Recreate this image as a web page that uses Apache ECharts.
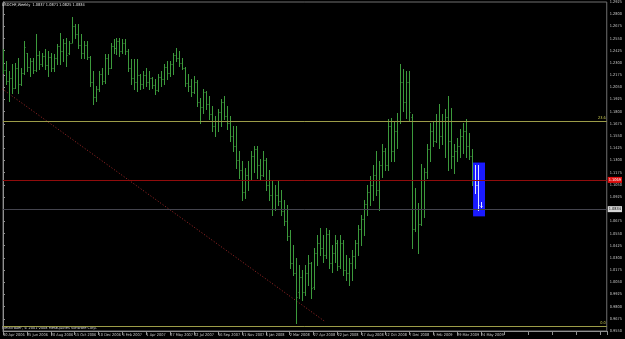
<!DOCTYPE html>
<html>
<head>
<meta charset="utf-8">
<script src="https://cdn.jsdelivr.net/npm/echarts@6/dist/echarts.min.js"></script>
<style>
html,body{margin:0;padding:0;background:#000;}
#chart{width:625px;height:339px;}
</style>
</head>
<body>
<div id="chart"></div>
<script>
// Week-start tick labels (one every 8 weekly bars, first bar = 30 Apr 2006)
const tickLabels = ["30 Apr 2006","25 Jun 2006","20 Aug 2006","15 Oct 2006","10 Dec 2006","4 Feb 2007","1 Apr 2007","27 May 2007","22 Jul 2007","16 Sep 2007","11 Nov 2007","6 Jan 2008","2 Mar 2008","27 Apr 2008","22 Jun 2008","17 Aug 2008","12 Oct 2008","7 Dec 2008","1 Feb 2009","29 Mar 2009","24 May 2009"];

// Weekly USDCHF OHLC (bar index 0 = week of 30 Apr 2006)
const opens = [
1.2430,1.2230,1.2110,1.2150,1.2040,1.2250,1.2080,1.2200,1.2400,1.2260,
1.2320,1.2230,1.2380,1.2290,1.2370,1.2280,1.2360,1.2250,1.2350,1.2470,
1.2420,1.2500,1.2400,1.2500,1.2680,1.2600,1.2480,1.2400,1.2480,1.2360,
1.2100,1.1950,1.2030,1.2190,1.2110,1.2350,1.2250,1.2470,1.2450,1.2520,
1.2420,1.2500,1.2420,1.2250,1.2150,1.2100,1.2180,1.2080,1.2180,1.2100,
1.2150,1.2070,1.2020,1.2160,1.2130,1.2260,1.2200,1.2290,1.2380,1.2350,
1.2300,1.2250,1.2090,1.2060,1.2000,1.2100,1.1900,1.1850,1.2000,1.1880,
1.1780,1.1650,1.1700,1.1800,1.1900,1.1760,1.1680,1.1550,1.1450,1.1300,
1.1200,1.0980,1.1150,1.1100,1.1350,1.1420,1.1250,1.1150,1.1300,1.1050,
1.0950,1.0800,1.0950,1.0880,1.0780,1.0680,1.0520,1.0250,1.0150,0.9950,
1.0100,0.9950,1.0150,1.0250,1.0000,1.0350,1.0450,1.0400,1.0330,1.0550,
1.0250,1.0350,1.0450,1.0220,1.0450,1.0180,1.0150,1.0250,1.0320,1.0450,
1.0600,1.0700,1.0850,1.0980,1.1050,1.1150,1.1000,1.1250,1.1400,1.1250,
1.1650,1.1400,1.1600,1.1700,1.2100,1.1900,1.2100,1.1750,1.0600,1.0800,
1.0650,1.1100,1.1180,1.1420,1.1600,1.1500,1.1700,1.1550,1.1700,1.1750,
1.1500,1.1350,1.1400,1.1450,1.1550,1.1600,1.1450,1.1350,1.1100,1.1050,
1.0837];
const highs = [
1.2444,1.2321,1.2219,1.2291,1.2301,1.2352,1.2250,1.2526,1.2403,1.2352,
1.2352,1.2598,1.2424,1.2403,1.2444,1.2424,1.2403,1.2393,1.2495,1.2608,
1.2547,1.2557,1.2526,1.2770,1.2700,1.2700,1.2598,1.2526,1.2526,1.2370,
1.2219,1.2066,1.2219,1.2250,1.2393,1.2393,1.2506,1.2547,1.2557,1.2557,
1.2547,1.2547,1.2444,1.2342,1.2342,1.2342,1.2188,1.2219,1.2250,1.2219,
1.2160,1.2137,1.2188,1.2219,1.2291,1.2321,1.2321,1.2403,1.2455,1.2424,
1.2352,1.2260,1.2188,1.2137,1.2168,1.2120,1.1943,1.2035,1.2015,1.1964,
1.1861,1.1759,1.1831,1.1933,1.1964,1.1861,1.1759,1.1657,1.1657,1.1401,
1.1299,1.1217,1.1299,1.1401,1.1452,1.1450,1.1319,1.1401,1.1320,1.1197,
1.1094,1.1043,1.1094,1.0992,1.0890,1.0839,1.0583,1.0430,1.0297,1.0225,
1.0174,1.0225,1.0327,1.0256,1.0399,1.0532,1.0603,1.0532,1.0603,1.0583,
1.0430,1.0532,1.0481,1.0532,1.0481,1.0327,1.0297,1.0378,1.0481,1.0634,
1.0736,1.0890,1.1043,1.1145,1.1248,1.1401,1.1299,1.1473,1.1432,1.1728,
1.1739,1.1708,1.1790,1.2291,1.2240,1.2219,1.2219,1.1780,1.1022,1.0859,
1.1268,1.1227,1.1473,1.1688,1.1708,1.1780,1.1882,1.1780,1.1831,1.1964,
1.1841,1.1473,1.1534,1.1626,1.1688,1.1728,1.1585,1.1422,1.1248,1.1248,
1.0871];
const lows = [
1.2199,1.2086,1.1912,1.1994,1.2045,1.1994,1.2070,1.2188,1.2219,1.2168,
1.2199,1.2219,1.2240,1.2270,1.2240,1.2168,1.2219,1.2219,1.2291,1.2291,
1.2321,1.2270,1.2393,1.2510,1.2557,1.2455,1.2352,1.2352,1.2342,1.2066,
1.1882,1.1912,1.2015,1.2086,1.2096,1.2188,1.2250,1.2403,1.2393,1.2373,
1.2403,1.2393,1.2219,1.2086,1.2035,1.2015,1.2035,1.2045,1.2066,1.2035,
1.2045,1.1984,1.2015,1.2066,1.2086,1.2137,1.2168,1.2188,1.2321,1.2270,
1.2240,1.2066,1.2015,1.1964,1.1994,1.1861,1.1688,1.1790,1.1831,1.1728,
1.1606,1.1555,1.1606,1.1657,1.1728,1.1626,1.1504,1.1401,1.1217,1.1115,
1.0890,1.0910,1.0992,1.1094,1.1176,1.1115,1.1094,1.1145,1.0992,1.0890,
1.0736,1.0788,1.0839,1.0736,1.0634,1.0481,1.0194,1.0123,0.9637,0.9888,
0.9867,0.9918,1.0020,0.9888,0.9980,1.0225,1.0327,1.0256,1.0297,1.0194,
1.0153,1.0256,1.0174,1.0200,1.0123,1.0072,1.0020,1.0072,1.0194,1.0327,
1.0430,1.0532,1.0736,1.0839,1.0890,1.0941,1.0788,1.1125,1.1197,1.1197,
1.1299,1.1299,1.1432,1.1688,1.1810,1.1739,1.1708,1.0399,1.0580,1.0348,
1.0640,1.0716,1.1115,1.1299,1.1452,1.1490,1.1432,1.1473,1.1330,1.1197,
1.1227,1.1166,1.1299,1.1330,1.1381,1.1330,1.1319,1.1043,1.0961,1.0788,
1.0825];
const closes = [
1.2230,1.2110,1.2150,1.2040,1.2250,1.2080,1.2200,1.2460,1.2260,1.2320,
1.2230,1.2380,1.2290,1.2370,1.2280,1.2360,1.2250,1.2350,1.2470,1.2420,
1.2500,1.2380,1.2500,1.2680,1.2600,1.2480,1.2400,1.2480,1.2360,1.2100,
1.1950,1.2030,1.2190,1.2110,1.2350,1.2250,1.2470,1.2450,1.2520,1.2420,
1.2500,1.2420,1.2250,1.2150,1.2100,1.2180,1.2080,1.2180,1.2100,1.2150,
1.2070,1.2020,1.2160,1.2130,1.2260,1.2200,1.2290,1.2380,1.2350,1.2300,
1.2250,1.2090,1.2060,1.2000,1.2100,1.1900,1.1850,1.2000,1.1880,1.1780,
1.1650,1.1700,1.1800,1.1900,1.1760,1.1680,1.1550,1.1450,1.1300,1.1200,
1.0980,1.1150,1.1100,1.1350,1.1420,1.1250,1.1150,1.1300,1.1050,1.0950,
1.0800,1.0950,1.0880,1.0780,1.0680,1.0520,1.0250,1.0150,0.9900,1.0100,
0.9950,1.0150,1.0250,0.9990,1.0350,1.0450,1.0400,1.0330,1.0550,1.0250,
1.0350,1.0450,1.0220,1.0450,1.0180,1.0150,1.0250,1.0320,1.0450,1.0600,
1.0700,1.0850,1.0980,1.1050,1.1150,1.1000,1.1250,1.1400,1.1250,1.1650,
1.1400,1.1600,1.1700,1.2100,1.1900,1.2100,1.1800,1.0600,1.0800,1.0650,
1.1100,1.1180,1.1420,1.1600,1.1500,1.1700,1.1550,1.1700,1.1750,1.1500,
1.1350,1.1400,1.1450,1.1550,1.1600,1.1450,1.1350,1.1100,1.1050,1.0840,
1.0834];

// Chart objects
const fibLevels = [{name:"23.6", value:1.1677}, {name:"0.0", value:0.9632}];
const redLevel = 1.1069;
const bidPrice = 1.0834;
const trendLine = [[-0.33, 1.2035], [107.6, 0.9652]];
const boxRange = [[157.4, 1.1278], [161.4, 1.0726]];

const rows = opens.map((o, i) => [i, o, highs[i], lows[i], closes[i]]);
const last = rows.length - 1;
const f4 = v => v.toFixed(4);

const FONT = '"Liberation Sans Narrow", "DejaVu Sans Condensed", "Liberation Sans", sans-serif';
const FS = 3.9;
const chart = echarts.init(document.getElementById('chart'), null, {renderer:'canvas'});
chart.setOption({
  backgroundColor: '#000',
  animation: false,
  title: {
    text: 'USDCHF,Weekly  ' + [opens[last], highs[last], lows[last], closes[last]].map(f4).join(' '),
    left: 2, top: 3, padding: 0,
    textStyle: {color:'#e0e0e0', fontSize:FS, fontWeight:'normal', fontFamily:FONT}
  },
  graphic: [{
    type:'text', left:2, top:326,
    style:{text:'MetaTrader, \u00a9 2001-2008 MetaQuotes Software Corp.', fill:'#d8d8d8', fontSize:FS, fontFamily:FONT}
  }],
  grid: {left:1, right:15, top:1, bottom:8, show:true, borderColor:'#707070', borderWidth:1, backgroundColor:'#000'},
  xAxis: {
    type:'value', min:0, max:202.16, interval:8,
    axisLine:{show:true, lineStyle:{color:'#909090'}},
    axisTick:{show:true, length:4, lineStyle:{color:'#909090'}},
    splitLine:{show:false},
    axisLabel:{color:'#c8c8c8', fontSize:FS, fontFamily:FONT, align:'left', margin:2, showMinLabel:true, hideOverlap:false,
      formatter: v => tickLabels[Math.round(v/8)] || ''}
  },
  yAxis: {
    type:'value', position:'right', min:0.955, max:1.2925, interval:0.0125,
    axisLine:{show:true, lineStyle:{color:'#909090'}},
    axisTick:{show:true, length:2, lineStyle:{color:'#909090'}},
    splitLine:{show:false},
    axisLabel:{color:'#c8c8c8', fontSize:FS, fontFamily:FONT, margin:3, formatter: v => v.toFixed(4)}
  },
  series: [
    {
      type:'line', data:[], z:1, silent:true,
      markArea:{silent:true, itemStyle:{color:'#1a1aff', opacity:1},
        data:[[{coord:boxRange[0]}, {coord:boxRange[1]}]]}
    },
    {
      type:'line', data:[], z:2, silent:true,
      markLine:{
        silent:true, symbol:['none','none'], animation:false,
        data:[
          ...fibLevels.map(l => ({yAxis:l.value, lineStyle:{color:'#9c9c48', width:1, type:'solid'},
            label:{show:true, position:'insideEndTop', formatter:l.name, color:'#c8c850', fontSize:FS, fontFamily:FONT, distance:1}})),
          {yAxis:redLevel, lineStyle:{color:'#900c0c', width:1, type:'solid'},
            label:{show:true, position:'end', formatter:f4(redLevel), color:'#fff', backgroundColor:'#e01010', fontSize:FS, fontFamily:FONT, padding:[1,1], distance:1}},
          {yAxis:bidPrice, lineStyle:{color:'#44444e', width:1, type:'solid'},
            label:{show:true, position:'end', formatter:f4(bidPrice), color:'#000', backgroundColor:'#d8d8d8', fontSize:FS, fontFamily:FONT, padding:[1,1], distance:1}}
        ]
      }
    },
    {
      type:'line', data:trendLine, z:2, symbol:'none', clip:true, silent:true,
      lineStyle:{color:'#a02828', width:1, type:[1,2]}
    },
    {
      type:'custom', z:3, clip:true, silent:true,
      encode:{x:0, y:[2,3]},
      data: rows,
      renderItem: (params, api) => {
        const i = api.value(0);
        const pH = api.coord([i, api.value(2)]);
        const pL = api.coord([i, api.value(3)]);
        const pO = api.coord([i, api.value(1)]);
        const pC = api.coord([i, api.value(4)]);
        const x = Math.round(pH[0]) + 0.5;
        const inBox = i > boxRange[0][0] && i < boxRange[1][0];
        const st = {stroke: inBox ? '#dce4ff' : '#3c9a3c', lineWidth:1};
        const yo = Math.round(pO[1]) + 0.5, yc = Math.round(pC[1]) + 0.5;
        return {type:'group', children:[
          {type:'line', shape:{x1:x, y1:Math.round(pH[1]), x2:x, y2:Math.round(pL[1]) + 1}, style:st},
          {type:'line', shape:{x1:x - 1, y1:yo, x2:x, y2:yo}, style:st},
          {type:'line', shape:{x1:x, y1:yc, x2:x + 1, y2:yc}, style:st}
        ]};
      }
    }
  ]
});
</script>
</body>
</html>
